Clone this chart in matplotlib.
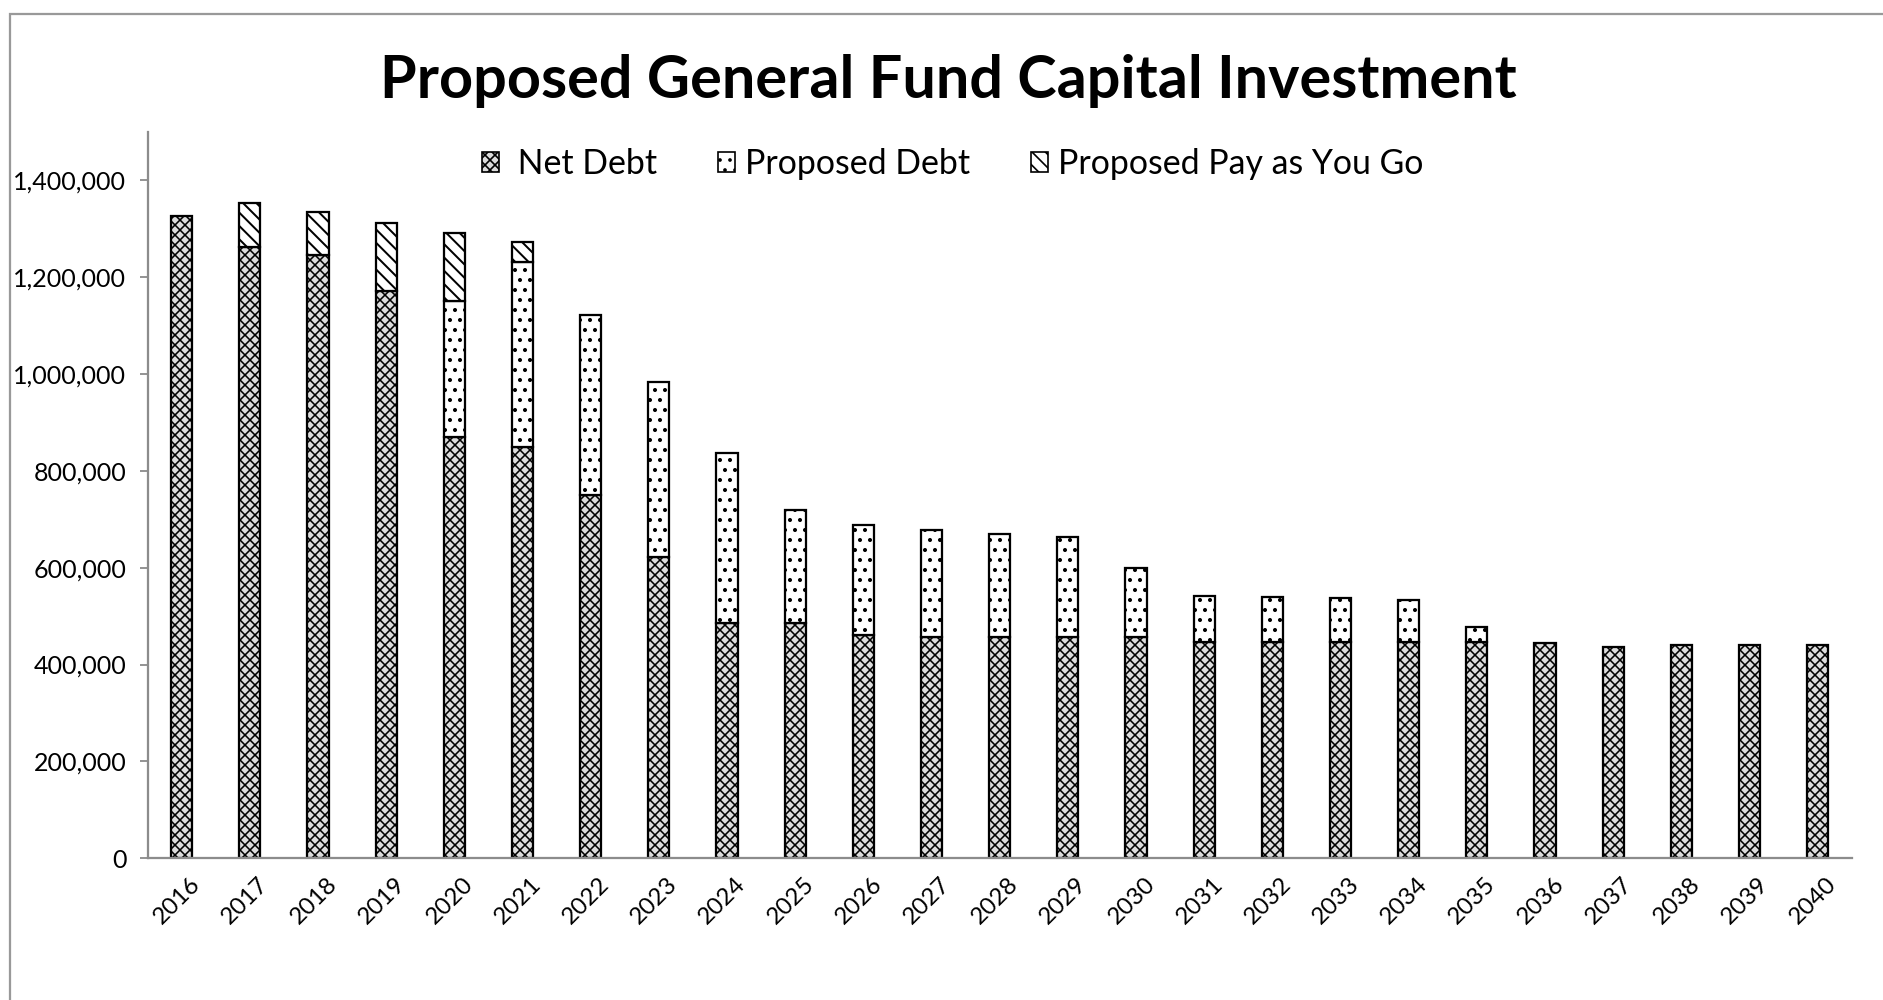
import matplotlib
matplotlib.use("Agg")
import matplotlib.pyplot as plt
import matplotlib.transforms as mtransforms
from matplotlib.patches import Rectangle, Patch
from matplotlib.ticker import FuncFormatter, MultipleLocator
import numpy as np

# ---- data -------------------------------------------------------------
years = [str(y) for y in range(2016, 2041)]

net_debt = [1325000, 1263000, 1245000, 1171000, 869000, 850000, 751000,
            622000, 485000, 485000, 462000, 457000, 457000, 457000, 456000,
            447000, 447000, 447000, 447000, 447000, 445000, 437000, 440000,
            440000, 440000]

proposed_debt = [0, 0, 0, 0, 281000, 382000, 371000, 362000, 351000,
                 234000, 226000, 221000, 213000, 206000, 144000, 94000,
                 92000, 90000, 86000, 31000, 0, 0, 0, 0, 0]

proposed_paygo = [0, 90000, 89000, 139500, 140000, 40000, 0, 0, 0, 0, 0,
                  0, 0, 0, 0, 0, 0, 0, 0, 0, 0, 0, 0, 0, 0]

series_labels = [" Net Debt", "Proposed Debt", "Proposed Pay as You Go"]
title = "Proposed General Fund Capital Investment"

# ---- styles per series -------------------------------------------------
DPI = 120
styles = [
    dict(facecolor='#dcdcdc', hatch='xxxx', hlw=0.95),
    dict(facecolor='white', hatch='..', hlw=1.2),
    dict(facecolor='white', hatch='\\\\\\', hlw=1.2),
]

plt.rcParams['font.family'] = ['Lato', 'DejaVu Sans']
fig = plt.figure(figsize=(1883 / DPI, 1000 / DPI), dpi=DPI)
ax = fig.add_axes([0.0784, 0.1417, 0.9050, 0.7266])

x = np.arange(len(years))
w = 0.31
layers = [np.array(net_debt), np.array(proposed_debt), np.array(proposed_paygo)]
edge_lw = 1.35

bottom = np.zeros(len(years))
handles = []
for vals, st, lab in zip(layers, styles, series_labels):
    with plt.rc_context({'hatch.linewidth': st['hlw']}):
        bars = ax.bar(x, vals, width=w, bottom=bottom,
                      facecolor=st['facecolor'], edgecolor='black',
                      linewidth=edge_lw, hatch=st['hatch'])
        handles.append(Patch(facecolor=st['facecolor'], edgecolor='black',
                             linewidth=1.0, hatch=st['hatch'], label=lab))
    for r, v in zip(bars, vals):
        if v == 0:
            r.set_visible(False)
    bottom = bottom + vals

ax.set_xlim(-0.5, len(years) - 0.5)
ax.set_ylim(0, 1500000)
ax.yaxis.set_major_locator(MultipleLocator(200000))
ax.yaxis.set_major_formatter(FuncFormatter(lambda v, p: f"{int(v):,}"))

ax.set_xticks(x)
ax.set_xticklabels(years, rotation=45, ha='right', va='top',
                   rotation_mode='anchor', fontsize=14.5)
ax.tick_params(axis='x', length=0, pad=9)
ax.tick_params(axis='y', length=4.8, width=1.1, color='#8c8c8c',
               labelsize=15, pad=8)

for s in ('top', 'right'):
    ax.spines[s].set_visible(False)
for s in ('left', 'bottom'):
    ax.spines[s].set_color('#8c8c8c')
    ax.spines[s].set_linewidth(1.35)

# nudge year labels so each ends just right of its bar centre
offset = mtransforms.ScaledTranslation(8 / DPI, 0, fig.dpi_scale_trans)
for lbl in ax.get_xticklabels():
    lbl.set_transform(lbl.get_transform() + offset)

fig.text(0.5035, 0.902, title, ha='center', va='baseline',
         fontsize=35.6, fontweight='bold')

fig.legend(handles=handles, loc='center', bbox_to_anchor=(0.506, 0.836),
           ncol=3, frameon=False, fontsize=20.3, handlelength=0.5,
           handleheight=0.5, handletextpad=0.3, columnspacing=1.8)

# chart-area border
fig.patches.append(Rectangle((10 / 1883, -0.1), 1.2, 1 - 14 / 1000 + 0.1,
                             transform=fig.transFigure, fill=False,
                             edgecolor='#999999', linewidth=1.35))

fig.savefig("out.png", dpi=DPI, facecolor='white')
